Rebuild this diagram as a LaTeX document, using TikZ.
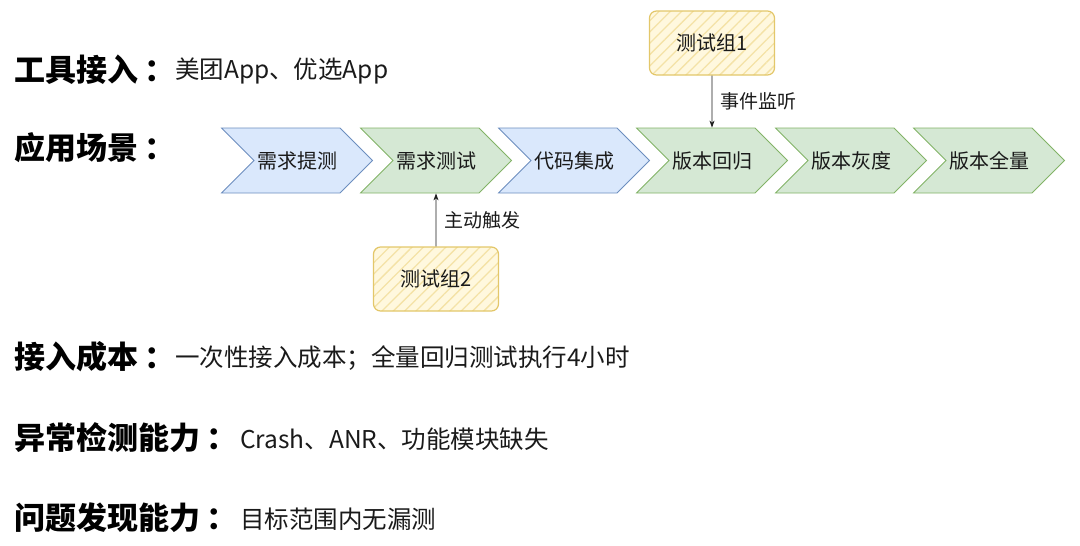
\documentclass[tikz,border=0pt]{standalone}
\usepackage{fontspec}
\setmainfont{Noto Sans CJK SC}
\usetikzlibrary{arrows.meta,positioning,shapes.symbols,patterns.meta}

\definecolor{stageblue}{HTML}{DAE8FC}
\definecolor{stageblueline}{HTML}{6C8EBF}
\definecolor{stagegreen}{HTML}{D5E8D4}
\definecolor{stagegreenline}{HTML}{82B366}
\definecolor{groupfill}{HTML}{FFF8DE}
\definecolor{groupline}{HTML}{E3C76A}
\definecolor{grouphatch}{HTML}{F4E2A6}
\definecolor{ink}{HTML}{1A1A1A}

\newcommand{\headcolon}{\hspace{6pt}：}

\begin{document}
\begin{tikzpicture}[x=1pt, y=-1pt, >={Stealth[length=7pt,width=5pt]},
  stage/.style={signal, signal from=west, signal to=east, signal pointer angle=90,
    draw, line width=0.8pt, minimum width=151pt, minimum height=65pt, inner sep=0pt,
    text=ink, font=\fontsize{20}{24}\selectfont},
  bluestage/.style={stage, fill=stageblue, draw=stageblueline},
  greenstage/.style={stage, fill=stagegreen, draw=stagegreenline},
  testgroup/.style={draw=groupline, line width=1.2pt, rounded corners=7pt,
    minimum width=125pt, minimum height=64pt, preaction={fill=groupfill},
    pattern={Lines[angle=45,distance=8pt,line width=1.3pt]}, pattern color=grouphatch,
    text=ink, font=\fontsize{20}{24}\selectfont},
  head/.style={anchor=west, inner sep=0pt, text=black, font=\fontsize{31}{37}\selectfont\bfseries},
  body/.style={anchor=west, inner sep=0pt, text=ink, font=\fontsize{24.5}{29}\selectfont},
  note/.style={font=\fontsize{19}{22}\selectfont, text=ink, inner sep=0pt}]
  \useasboundingbox (0,0) rectangle (1080,546);

  % left column
  \node[head] (h1) at (14,70) {工具接入\headcolon};
  \node[body] (b1) at (175,71) {美团App、优选App};
  \node[head] (h2) at (14,148) {应用场景\headcolon};
  \node[head] (h3) at (14,357) {接入成本\headcolon};
  \node[body] (b3) at (175,358) {一次性接入成本；全量回归测试执行4小时};
  \node[head] (h4) at (14,438) {异常检测能力\headcolon};
  \node[body] (b4) at (240,439) {Crash、ANR、功能模块缺失};
  \node[head] (h5) at (14,518) {问题发现能力\headcolon};
  \node[body] (b5) at (240,519) {目标范围内无漏测};

  % release pipeline
  \node[bluestage]  (s1) at (297,160.5) {需求提测};
  \node[greenstage] (s2) at (436,160.5) {需求测试};
  \node[bluestage]  (s3) at (574,160.5) {代码集成};
  \node[greenstage] (s4) at (712,160.5) {版本回归};
  \node[greenstage] (s5) at (851,160.5) {版本灰度};
  \node[greenstage] (s6) at (989,160.5) {版本全量};

  % test groups
  \node[testgroup] (g1) at (712,43) {测试组1};
  \node[testgroup] (g2) at (436,279) {测试组2};
  \draw[->, line width=0.8pt, draw=ink] (g1) -- node[note, right=8pt, pos=0.5]{事件监听} (s4);
  \draw[->, line width=0.8pt, draw=ink] (g2) -- node[note, right=8pt, pos=0.5]{主动触发} (s2);
\end{tikzpicture}
\end{document}
